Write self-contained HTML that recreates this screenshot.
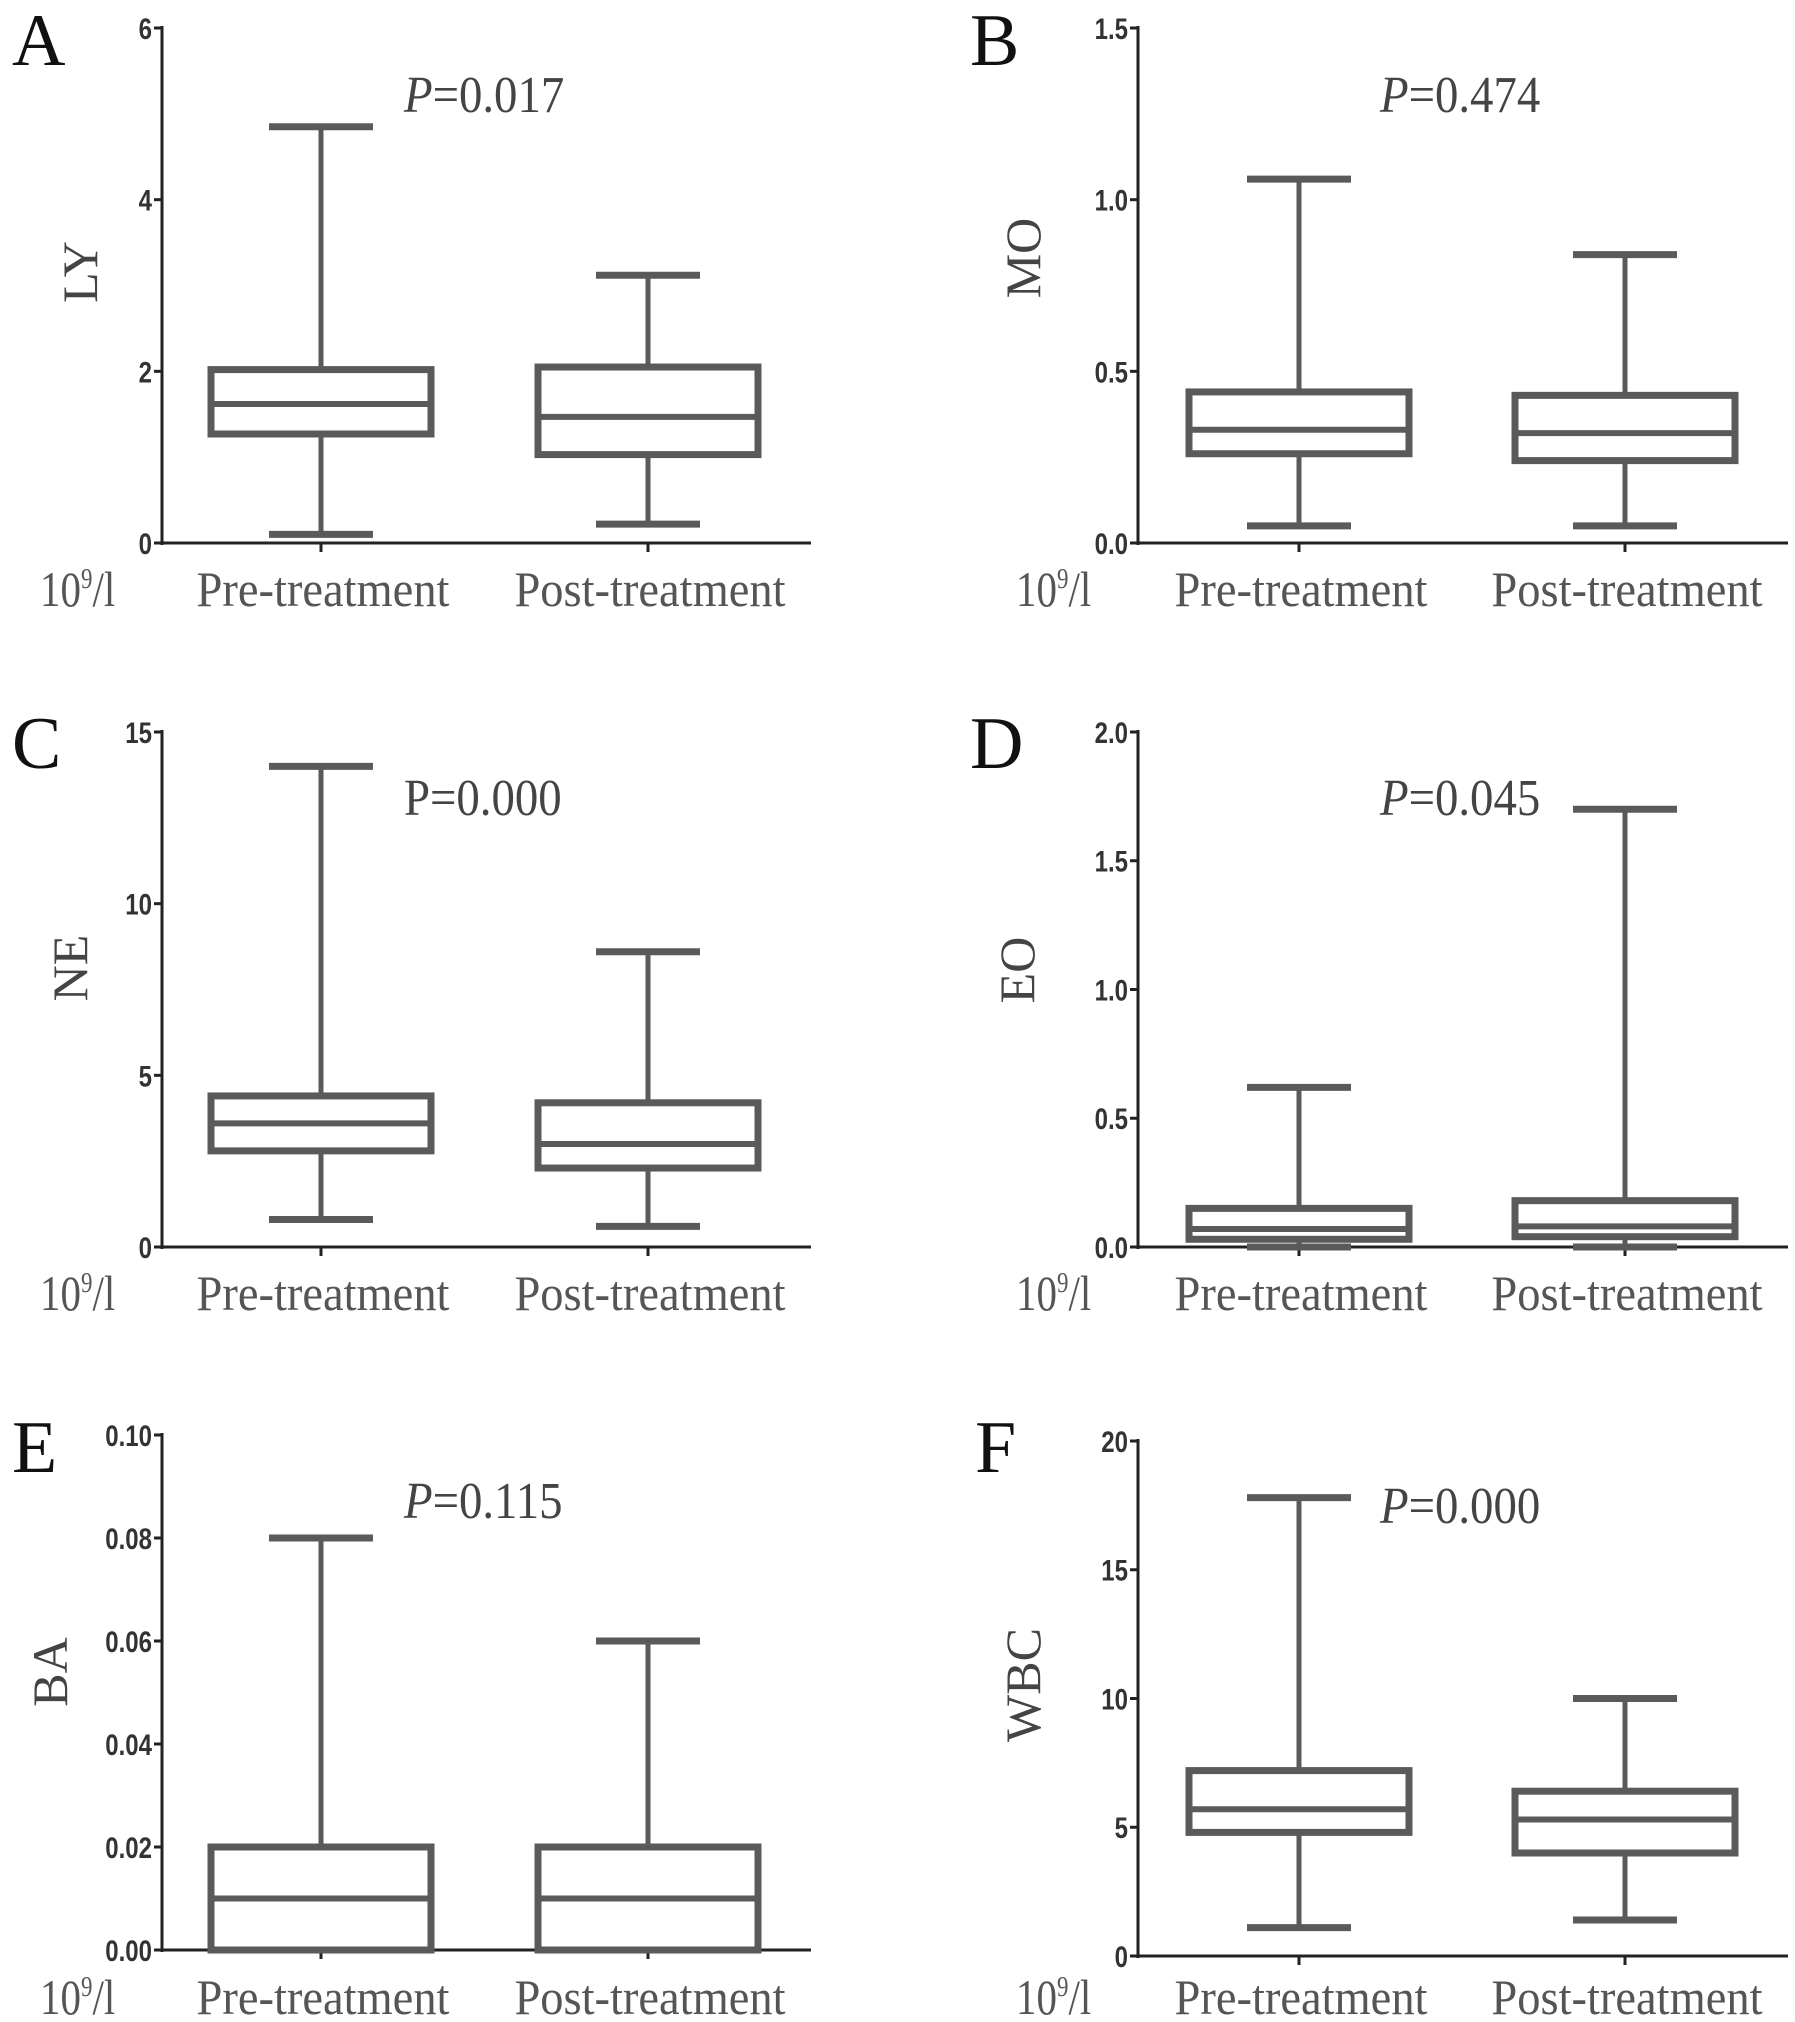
<!DOCTYPE html>
<html><head><meta charset="utf-8"><style>
html,body{margin:0;padding:0;background:#fff;}
svg{display:block;}
.tick{font-family:"Liberation Sans",sans-serif;font-weight:bold;font-size:30px;fill:#333;}
.cat{font-family:"Liberation Serif",serif;font-size:50px;fill:#555;}
.ttl{font-family:"Liberation Serif",serif;font-size:50px;fill:#444;}
.pl{font-family:"Liberation Serif",serif;font-size:74px;fill:#111;}
.pv{font-family:"Liberation Serif",serif;font-size:52px;fill:#444;}
</style></head><body>
<svg id="fig" width="1795" height="2022" viewBox="0 0 1795 2022"></svg>
<script>
const panelNames=["A","B","C","D","E","F"];
const yTitles=["LY","MO","NE","EO","BA","WBC"];
const pTexts=["0.017","0.474","0.000","0.045","0.115","0.000"];
const pItalic=[true,true,false,true,true,true];
const yMax=[6,1.5,15,2.0,0.10,20];
const yTicks=[[0,2,4,6],[0,0.5,1.0,1.5],[0,5,10,15],[0,0.5,1.0,1.5,2.0],[0,0.02,0.04,0.06,0.08,0.10],[0,5,10,15,20]];
const tickDec=[0,1,0,1,2,0];
const categories=["Pre-treatment","Post-treatment"];
// [min, q1, median, q3, max] for pre and post
const preStats=[[0.1,1.27,1.62,2.02,4.85],[0.05,0.26,0.33,0.44,1.06],[0.8,2.8,3.6,4.4,14.0],[0.0,0.03,0.07,0.15,0.62],[0,0,0.01,0.02,0.08],[1.1,4.8,5.7,7.2,17.8]];
const postStats=[[0.22,1.03,1.47,2.05,3.12],[0.05,0.24,0.32,0.43,0.84],[0.6,2.3,3.0,4.2,8.6],[0.0,0.04,0.08,0.18,1.70],[0,0,0.01,0.02,0.06],[1.4,4.0,5.3,6.4,10.0]];

const layout=[
 {ax:162,xe:811,top:28,zero:543,c:[321,648],lab:592},
 {ax:1138,xe:1788,top:28,zero:543,c:[1299,1625],lab:592},
 {ax:162,xe:811,top:732,zero:1247,c:[321,648],lab:1296},
 {ax:1138,xe:1788,top:732,zero:1247,c:[1299,1625],lab:1296},
 {ax:162,xe:811,top:1435,zero:1950,c:[321,648],lab:2000},
 {ax:1138,xe:1788,top:1441,zero:1956,c:[1299,1625],lab:2000}];
const titlePos=[[97,272],[1040,258],[87,968],[1034,970],[67,1672],[1040,1685]];
const pPos=[[404,112],[1380,112],[404,815],[1380,815],[404,1518],[1380,1523]];
const letterPos=[[12,65],[970,65],[12,768],[970,768],[12,1472],[975,1472]];

const NS="http://www.w3.org/2000/svg";
const svg=document.getElementById('fig');
function mk(tag,attrs,parent,text){const e=document.createElementNS(NS,tag);for(const k in attrs)e.setAttribute(k,attrs[k]);if(text!==undefined)e.textContent=text;(parent||svg).appendChild(e);return e;}

panelNames.forEach((pn,i)=>{
  const L=layout[i];
  const g=mk('g',{});
  
  
  const y=v=>L.zero-(v/yMax[i])*(L.zero-L.top);
  const ya=mk('line',{x1:L.ax,y1:L.top-2,x2:L.ax,y2:L.zero+2,stroke:'#222','stroke-width':3},g);
  
  const xa=mk('line',{x1:L.ax,y1:L.zero,x2:L.xe,y2:L.zero,stroke:'#222','stroke-width':3},g);
  
  yTicks[i].forEach(t=>{
    const ty=y(t);
    const tl=mk('line',{x1:L.ax-8,y1:ty,x2:L.ax,y2:ty,stroke:'#222','stroke-width':3},g);
    
    const tt=mk('text',{x:L.ax-10,y:ty+11,'text-anchor':'end',class:'tick',transform:`translate(${L.ax-10},0) scale(0.8,1) translate(${-(L.ax-10)},0)`},g,t.toFixed(tickDec[i]));
    
  });
  L.c.forEach(cx=>{mk('line',{x1:cx,y1:L.zero,x2:cx,y2:L.zero+9,stroke:'#222','stroke-width':3},g);});
  [preStats[i],postStats[i]].forEach((s,k)=>{
    const cx=L.c[k],hw=110,cw=52;
    const bg=mk('g',{stroke:'#5a5a5a',fill:'none'},g);
    
    
    mk('line',{x1:cx,y1:y(s[4]),x2:cx,y2:y(s[3]),'stroke-width':5},bg);
    mk('line',{x1:cx,y1:y(s[1]),x2:cx,y2:y(s[0]),'stroke-width':5},bg);
    mk('line',{x1:cx-cw,y1:y(s[4]),x2:cx+cw,y2:y(s[4]),'stroke-width':7},bg);
    mk('line',{x1:cx-cw,y1:y(s[0]),x2:cx+cw,y2:y(s[0]),'stroke-width':7},bg);
    mk('rect',{x:cx-hw,y:y(s[3]),width:2*hw,height:Math.max(0,y(s[1])-y(s[3])),'stroke-width':7,fill:'#fff'},bg);
    mk('line',{x1:cx-hw,y1:y(s[2]),x2:cx+hw,y2:y(s[2]),'stroke-width':6},bg);
  });
  categories.forEach((c,k)=>{
    const cx=L.c[k]+2;
    const t=mk('text',{x:cx,y:L.lab+14,'text-anchor':'middle',class:'cat',transform:`translate(${cx},0) scale(0.93,1) translate(${-cx},0)`},g,c);
    
  });
  const ux=L.ax-122;
  const u=mk('text',{x:ux,y:L.lab+14,class:'cat',transform:`translate(${ux},0) scale(0.82,1) translate(${-ux},0)`},g);
  
  mk('tspan',{},u,'10');mk('tspan',{dy:-18,'font-size':28},u,'9');mk('tspan',{dy:18},u,'/l');
  const [tx,ty]=titlePos[i];
  const yt=mk('text',{x:tx,y:ty,'text-anchor':'middle',class:'ttl',transform:`rotate(-90 ${tx} ${ty})`},g,yTitles[i]);
  
  const [px,py]=pPos[i];
  const pt=mk('text',{x:px,y:py,class:'pv',transform:`translate(${px},0) scale(0.9,1) translate(${-px},0)`},g);
  
  mk('tspan',pItalic[i]?{'font-style':'italic'}:{},pt,'P');mk('tspan',{},pt,'='+pTexts[i]);
  const [lx,ly]=letterPos[i];
  const lt=mk('text',{x:lx,y:ly,class:'pl'},g,pn);
  
});
</script>
</body></html>
